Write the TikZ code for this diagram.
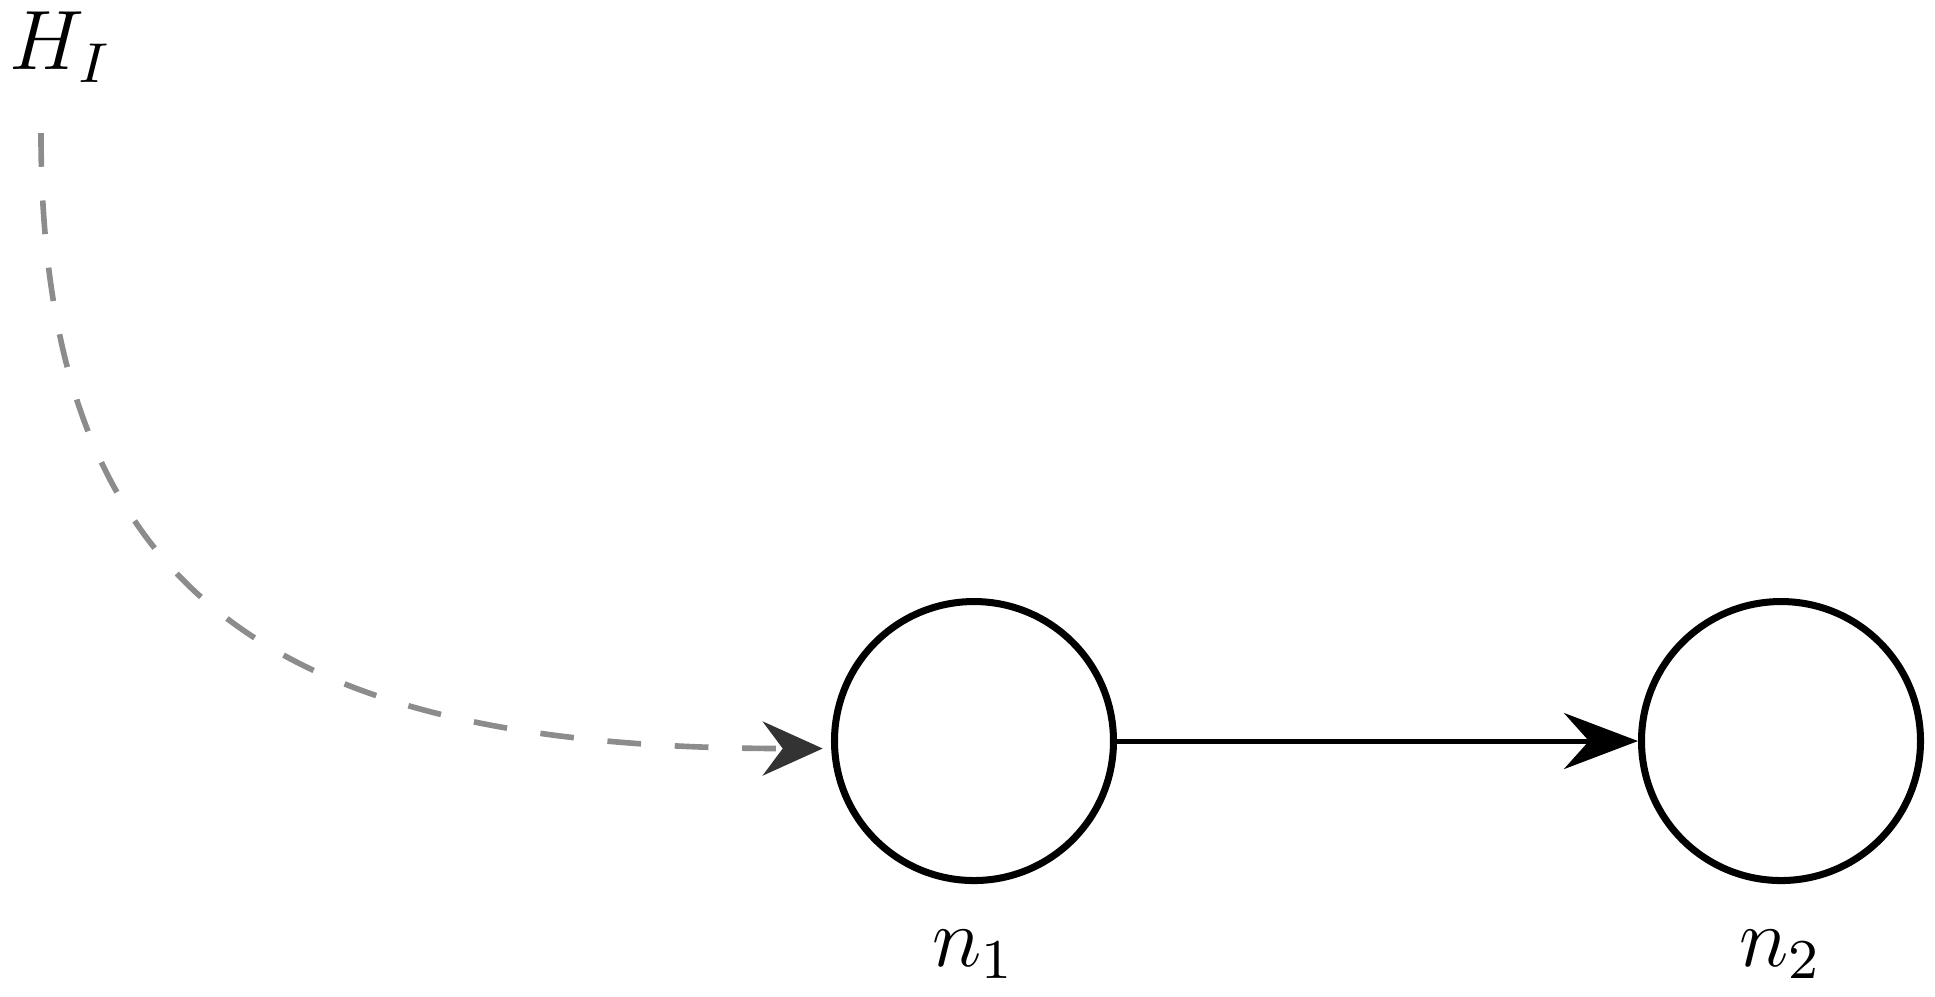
\documentclass[tikz,border=0pt]{standalone}
\usepackage{amsmath}
\usetikzlibrary{arrows.meta,positioning}

\tikzset{
  vertex/.style={circle,draw,line width=1pt,minimum size=1.395cm,inner sep=0pt},
  flow/.style={line width=0.7pt,-{Stealth[length=3.7mm,width=2.8mm,inset=1.25mm]}},
  hint/.style={black!45,line width=0.8pt,dash pattern=on 4.8pt off 4.8pt,
    -{Stealth[length=3mm,width=2.7mm,inset=1mm,black!80]}}
}

\begin{document}
\begin{tikzpicture}[font=\large]
          \useasboundingbox (-4.87,-1.275) rectangle (4.805,3.705);
          \node[vertex] (n1) at (0,0) {};
          \node[vertex] (n2) at (4.035,0) {};
          \node (l1) [below=3pt of n1] {$n_1$};
          \node (l2) [below=3pt of n2] {$n_2$};
          \node (hi) at (-4.565,3.47) {$H_I$};
          \coordinate (src) at (-4.665,3.04);
          \draw[flow] (n1) -- (n2);
          \draw[hint,shorten >=1.2pt] (src) .. controls +(0,-2.3) and +(-2.8,0) .. (n1.183);
        \end{tikzpicture}
\end{document}
